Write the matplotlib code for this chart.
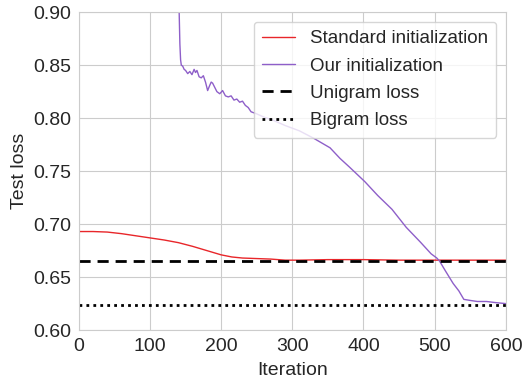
import matplotlib
matplotlib.use("Agg")
import matplotlib.pyplot as plt
import seaborn as sns

sns.set_style("whitegrid")
plt.rcParams['font.family'] = ['Liberation Sans', 'DejaVu Sans']

# Standard initialization
std_iter = [0, 20, 40, 60, 80, 100, 120, 140, 160, 180, 200, 215, 230, 250, 270, 290, 310, 350, 400, 450, 500, 550, 600]
std_loss = [0.693, 0.693, 0.6925, 0.691, 0.689, 0.687, 0.685, 0.6825, 0.679, 0.675, 0.671, 0.669, 0.668, 0.6675, 0.667, 0.666, 0.666, 0.6665, 0.6665, 0.666, 0.666, 0.666, 0.666]

# Our initialization
our_iter = [140, 141, 142, 143, 144, 146, 148, 150, 153, 156, 159, 162, 164, 166, 169, 172, 175, 178, 181, 184, 186, 188,
            191, 194, 198, 202, 206, 210, 214, 218, 222, 226, 230, 234, 238, 242, 250, 260, 273, 290, 310, 330, 353,
            367, 380, 402, 420, 440, 460, 480, 495, 503, 507, 515, 526, 534, 541, 550, 560, 573, 585, 600]
our_loss = [0.95, 0.90, 0.87, 0.855, 0.850, 0.849, 0.846, 0.845, 0.842, 0.844, 0.841, 0.846, 0.843, 0.845, 0.839, 0.838, 0.840,
            0.834, 0.826, 0.831, 0.834, 0.833, 0.829, 0.825, 0.823, 0.826, 0.821, 0.820, 0.821, 0.817, 0.818, 0.815, 0.816,
            0.812, 0.810, 0.806, 0.804, 0.801, 0.798, 0.793, 0.788, 0.781, 0.772, 0.762, 0.754, 0.740, 0.727, 0.714, 0.697,
            0.683, 0.672, 0.668, 0.665, 0.656, 0.644, 0.637, 0.629, 0.628, 0.627, 0.627, 0.626, 0.625]

unigram_loss = 0.665
bigram_loss = 0.624

fig, ax = plt.subplots(figsize=(5.22, 3.79), dpi=100)
fig.subplots_adjust(left=0.151, right=0.969, top=0.968, bottom=0.129)

ax.plot(std_iter, std_loss, color='#e8262a', lw=1.0, label='Standard initialization')
ax.plot(our_iter, our_loss, color='#8e5fc9', lw=1.0, label='Our initialization')
ax.axhline(unigram_loss, color='black', lw=2.0, ls=(0, (4, 2.5)), label='Unigram loss')
ax.axhline(bigram_loss, color='black', lw=2.0, ls=(0, (1, 1.5)), label='Bigram loss')

ax.set_xlim(0, 600)
ax.set_ylim(0.60, 0.90)
ax.set_xticks([0, 100, 200, 300, 400, 500, 600])
ax.set_yticks([0.60, 0.65, 0.70, 0.75, 0.80, 0.85, 0.90])
ax.set_yticklabels(['0.60', '0.65', '0.70', '0.75', '0.80', '0.85', '0.90'])
ax.tick_params(labelsize=14, pad=2)
ax.set_xlabel('Iteration', fontsize=14, labelpad=5)
ax.set_ylabel('Test loss', fontsize=14, labelpad=4)
for s in ax.spines.values():
    s.set_color('#cccccc')
ax.legend(loc='upper right', fontsize=13.5, framealpha=0.8, handlelength=1.75, handletextpad=0.8,
          borderaxespad=0.5, labelspacing=0.55, borderpad=0.45)

fig.savefig('out.png', dpi=100)
